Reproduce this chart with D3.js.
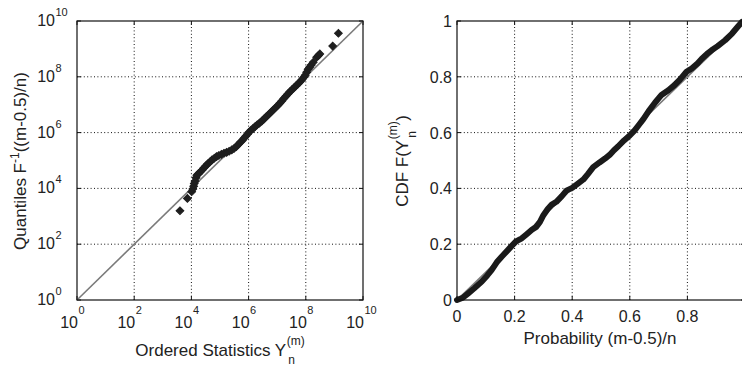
<!DOCTYPE html>
<html>
<head>
<meta charset="utf-8">
<script src="https://cdn.jsdelivr.net/npm/d3@7"></script>
<style>
  body { margin: 0; background: #fff; }
  svg { display: block; }
  text { font-family: "Liberation Sans", Arial, Helvetica, sans-serif; fill: #222; }
</style>
</head>
<body>
<svg id="chart" width="742" height="366"></svg>
<script>
// Q-Q plot: ordered statistics vs. quantiles (log10 exponents)
const qqLogX = [3.60, 3.86, 4.01, 4.05, 4.08, 4.10, 4.13, 4.16, 4.19, 4.24, 4.30, 4.37, 4.44, 4.50,
  4.57, 4.65, 4.72, 4.80, 4.88, 4.96, 5.05, 5.14, 5.23, 5.32, 5.41, 5.49, 5.57, 5.64, 5.71, 5.78,
  5.84, 5.90, 5.96, 6.02, 6.09, 6.16, 6.23, 6.30, 6.38, 6.46, 6.54, 6.62, 6.70, 6.78, 6.86, 6.94,
  7.02, 7.09, 7.16, 7.23, 7.30, 7.37, 7.44, 7.51, 7.58, 7.65, 7.72, 7.80, 7.87, 7.93, 7.98, 8.03,
  8.08, 8.13, 8.19, 8.26, 8.38, 8.44, 8.49, 8.94, 9.14];
const qqLogY = [3.20, 3.64, 3.88, 3.98, 4.08, 4.18, 4.26, 4.38, 4.47, 4.52, 4.58, 4.65, 4.74, 4.80,
  4.88, 4.95, 5.02, 5.08, 5.14, 5.18, 5.22, 5.26, 5.29, 5.33, 5.38, 5.43, 5.50, 5.57, 5.65, 5.72,
  5.80, 5.87, 5.94, 6.02, 6.09, 6.15, 6.22, 6.28, 6.34, 6.41, 6.49, 6.57, 6.65, 6.73, 6.81, 6.89,
  6.97, 7.05, 7.13, 7.22, 7.30, 7.38, 7.46, 7.53, 7.60, 7.67, 7.74, 7.82, 7.90, 7.98, 8.06, 8.16,
  8.27, 8.34, 8.42, 8.52, 8.70, 8.76, 8.82, 9.10, 9.56];

// P-P plot: probability (m-0.5)/n vs. CDF
const probX = [0, 0.02, 0.039, 0.06, 0.086, 0.105, 0.12, 0.138, 0.155, 0.175, 0.19, 0.205, 0.225,
  0.242, 0.26, 0.275, 0.288, 0.30, 0.315, 0.329, 0.345, 0.364, 0.38, 0.40, 0.421, 0.439, 0.455,
  0.473, 0.495, 0.514, 0.53, 0.545, 0.56, 0.58, 0.60, 0.617, 0.632, 0.647, 0.665, 0.688, 0.71,
  0.734, 0.755, 0.774, 0.797, 0.815, 0.835, 0.85, 0.868, 0.884, 0.905, 0.931, 0.955, 0.977, 0.99];
const cdfY = [0, 0.008, 0.024, 0.042, 0.066, 0.088, 0.107, 0.135, 0.155, 0.177, 0.194, 0.21, 0.221,
  0.236, 0.252, 0.262, 0.28, 0.304, 0.326, 0.342, 0.352, 0.372, 0.392, 0.402, 0.418, 0.432, 0.452,
  0.476, 0.493, 0.507, 0.52, 0.537, 0.551, 0.572, 0.59, 0.608, 0.628, 0.648, 0.676, 0.708, 0.735,
  0.752, 0.77, 0.79, 0.818, 0.83, 0.848, 0.865, 0.882, 0.895, 0.91, 0.931, 0.955, 0.982, 0.997];

const logTickExps = [0, 2, 4, 6, 8, 10];
const linTicks = [0, 0.2, 0.4, 0.6, 0.8, 1];

const svg = d3.select('#chart');

// box, dotted grid and inward ticks, MATLAB style
function drawFrame(x, y, xTicks, yTicks) {
  const [x0, x1] = x.range();
  const [y0, y1] = y.range();
  const g = svg.append('g');
  const grid = g.append('g')
    .attr('stroke', '#111')
    .attr('stroke-width', 1)
    .attr('stroke-dasharray', '1,2.4');
  xTicks.slice(1, -1).forEach(t => {
    grid.append('line').attr('x1', x(t)).attr('x2', x(t)).attr('y1', y0).attr('y2', y1);
  });
  yTicks.slice(1, -1).forEach(t => {
    grid.append('line').attr('x1', x0).attr('x2', x1).attr('y1', y(t)).attr('y2', y(t));
  });
  const tk = g.append('g').attr('stroke', '#111');
  xTicks.forEach(t => {
    tk.append('line').attr('x1', x(t)).attr('x2', x(t)).attr('y1', y0).attr('y2', y0 - 4);
    tk.append('line').attr('x1', x(t)).attr('x2', x(t)).attr('y1', y1).attr('y2', y1 + 4);
  });
  yTicks.forEach(t => {
    tk.append('line').attr('x1', x0).attr('x2', x0 + 4).attr('y1', y(t)).attr('y2', y(t));
    tk.append('line').attr('x1', x1).attr('x2', x1 - 4).attr('y1', y(t)).attr('y2', y(t));
  });
  return g;
}

function drawBox(x, y) {
  const [x0, x1] = x.range();
  const [y0, y1] = y.range();
  svg.append('rect')
    .attr('x', x0).attr('y', y1)
    .attr('width', x1 - x0).attr('height', y0 - y1)
    .attr('fill', 'none').attr('stroke', '#111').attr('stroke-width', 1.2);
}

// label with stacked super/subscript, e.g. Y_n^(m); centered on 0
function stackedLabel(g, main, sup, sub, tail) {
  const inner = g.append('g');
  const t = inner.append('text').attr('font-size', 17).text(main);
  const w0 = t.node().getComputedTextLength();
  const s1 = inner.append('text').attr('x', w0 + 0.5).attr('y', -11).attr('font-size', 12).text(sup);
  const ws = s1.node().getComputedTextLength();
  inner.append('text').attr('x', w0 + 2).attr('y', 8).attr('font-size', 12).text(sub);
  let total = w0 + ws + 0.5;
  if (tail) {
    const tt = inner.append('text').attr('x', total + 0.5).attr('font-size', 17).text(tail);
    total += tt.node().getComputedTextLength() + 0.5;
  }
  inner.attr('transform', `translate(${-total / 2},0)`);
}

// ---------- left: Q-Q plot ----------
const xL = d3.scaleLog().domain([1, 1e10]).range([77, 363]);
const yL = d3.scaleLog().domain([1, 1e10]).range([300, 21]);
const logTicks = logTickExps.map(e => Math.pow(10, e));

drawFrame(xL, yL, logTicks, logTicks);

svg.append('line')
  .attr('x1', xL(1)).attr('y1', yL(1))
  .attr('x2', xL(1e10)).attr('y2', yL(1e10))
  .attr('stroke', '#7a7a7a').attr('stroke-width', 1.6);

const qq = qqLogX.map((e, i) => ({ x: Math.pow(10, e), y: Math.pow(10, qqLogY[i]) }));
const diamond = d3.symbol(d3.symbolSquare).size(30);
svg.append('g').selectAll('path')
  .data(qq)
  .enter()
  .append('path')
  .attr('d', diamond)
  .attr('transform', d => `translate(${xL(d.x)},${yL(d.y)}) rotate(45)`)
  .attr('fill', '#1e1e1e')
  .attr('stroke', '#1e1e1e')
  .attr('stroke-width', 1);

drawBox(xL, yL);

// log tick labels: 10 with exponent
logTickExps.forEach(e => {
  const v = Math.pow(10, e);
  svg.append('text').attr('x', xL(v) + 1).attr('y', 328)
    .attr('text-anchor', 'end').attr('font-size', 16).text('10');
  svg.append('text').attr('x', xL(v) + 1.5).attr('y', 314)
    .attr('font-size', 11).text(e);
  svg.append('text').attr('x', 55).attr('y', yL(v) + 5)
    .attr('text-anchor', 'end').attr('font-size', 16).text('10');
  svg.append('text').attr('x', 55.5).attr('y', yL(v) - 5)
    .attr('font-size', 11).text(e);
});

stackedLabel(svg.append('g').attr('transform', 'translate(220,356)'),
  'Ordered Statistics Y', '(m)', 'n', null);

const yTitleL = svg.append('text')
  .attr('transform', 'translate(26,161) rotate(-90)')
  .attr('text-anchor', 'middle')
  .attr('font-size', 17);
yTitleL.append('tspan').text('Quantiles F');
yTitleL.append('tspan').attr('dy', -7).attr('font-size', 12).text('-1');
yTitleL.append('tspan').attr('dy', 7).text('((m-0.5)/n)');

// ---------- right: P-P plot ----------
const xR = d3.scaleLinear().domain([0, 1]).range([457, 745]);
const yR = d3.scaleLinear().domain([0, 1]).range([300, 21]);

drawFrame(xR, yR, linTicks, linTicks);

svg.append('line')
  .attr('x1', xR(0)).attr('y1', yR(0))
  .attr('x2', xR(1)).attr('y2', yR(1))
  .attr('stroke', '#7a7a7a').attr('stroke-width', 1.6);

const pp = probX.map((p, i) => ({ x: p, y: cdfY[i] }));
const line = d3.line()
  .x(d => xR(d.x))
  .y(d => yR(d.y))
  .curve(d3.curveLinear);

svg.append('path')
  .datum(pp)
  .attr('d', line)
  .attr('fill', 'none')
  .attr('stroke', '#1a1a1a')
  .attr('stroke-width', 6)
  .attr('stroke-linejoin', 'round')
  .attr('stroke-linecap', 'round');

drawBox(xR, yR);

const fmt = d => (d === 0 || d === 1) ? String(d) : d.toFixed(1);
linTicks.forEach(t => {
  // the last x label sits past the page edge in the reference, so it is not drawn
  if (xR(t) < 735) {
    svg.append('text').attr('x', xR(t)).attr('y', 322)
      .attr('text-anchor', 'middle').attr('font-size', 16).text(fmt(t));
  }
  svg.append('text').attr('x', 452).attr('y', yR(t) + 6)
    .attr('text-anchor', 'end').attr('font-size', 16).text(fmt(t));
});

svg.append('text')
  .attr('x', 600).attr('y', 344)
  .attr('text-anchor', 'middle')
  .attr('font-size', 17)
  .text('Probability (m-0.5)/n');

stackedLabel(svg.append('g').attr('transform', 'translate(408,161) rotate(-90)'),
  'CDF F(Y', '(m)', 'n', ')');
</script>
</body>
</html>
